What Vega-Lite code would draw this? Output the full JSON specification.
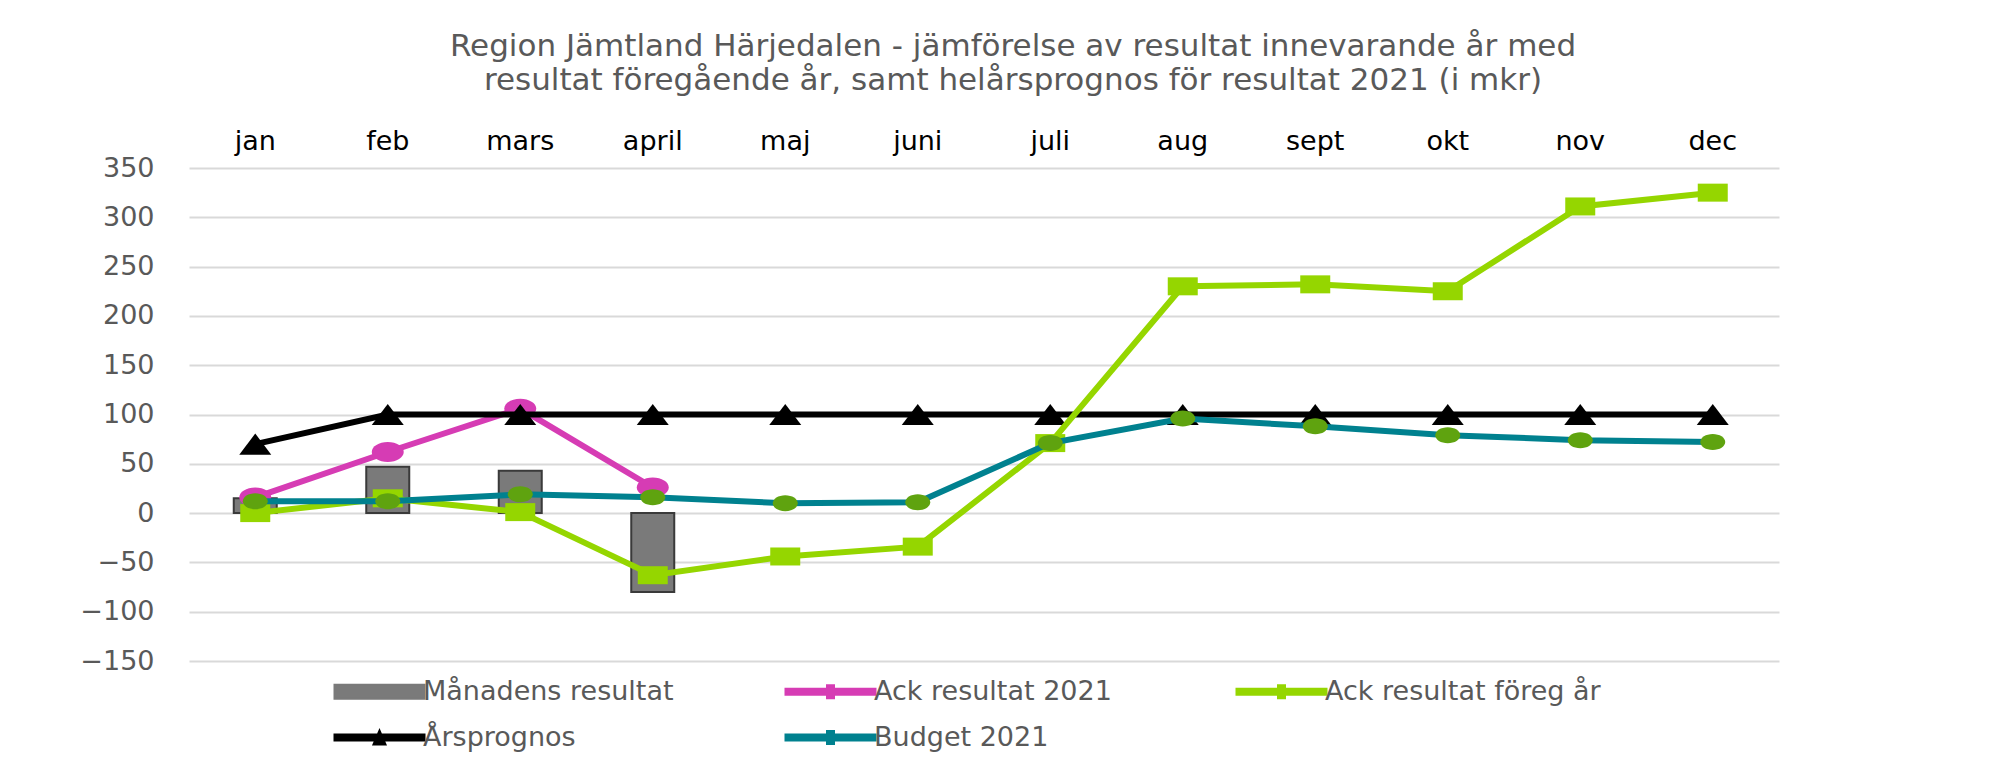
{
  "$schema": "https://vega.github.io/schema/vega-lite/v6.json",
  "width": 1590,
  "height": 493,
  "autosize": {"type": "none"},
  "padding": {"left": 189, "top": 168, "right": 234, "bottom": 111},
  "background": "white",
  "title": {
    "text": ["Region Jämtland Härjedalen - jämförelse av resultat innevarande år med", "resultat föregående år, samt helårsprognos för resultat 2021 (i mkr)"],
    "anchor": "middle",
    "frame": "group",
    "dx": 29,
    "offset": 30,
    "color": "#595959",
    "font": "DejaVu Sans",
    "fontSize": 31,
    "fontWeight": "normal",
    "lineHeight": 34
  },
  "config": {
    "view": {"stroke": null},
    "font": "DejaVu Sans"
  },
  "data": {
    "values": [
      {"month": "jan", "series": "Månadens resultat", "value": 15},
      {"month": "feb", "series": "Månadens resultat", "value": 47},
      {"month": "mars", "series": "Månadens resultat", "value": 43},
      {"month": "april", "series": "Månadens resultat", "value": -80},
      {"month": "jan", "series": "Ack resultat 2021", "value": 16},
      {"month": "feb", "series": "Ack resultat 2021", "value": 62},
      {"month": "mars", "series": "Ack resultat 2021", "value": 106},
      {"month": "april", "series": "Ack resultat 2021", "value": 26},
      {"month": "jan", "series": "Ack resultat föreg år", "value": 0},
      {"month": "feb", "series": "Ack resultat föreg år", "value": 15},
      {"month": "mars", "series": "Ack resultat föreg år", "value": 1},
      {"month": "april", "series": "Ack resultat föreg år", "value": -63},
      {"month": "maj", "series": "Ack resultat föreg år", "value": -44},
      {"month": "juni", "series": "Ack resultat föreg år", "value": -34},
      {"month": "juli", "series": "Ack resultat föreg år", "value": 71},
      {"month": "aug", "series": "Ack resultat föreg år", "value": 230},
      {"month": "sept", "series": "Ack resultat föreg år", "value": 232},
      {"month": "okt", "series": "Ack resultat föreg år", "value": 225},
      {"month": "nov", "series": "Ack resultat föreg år", "value": 311},
      {"month": "dec", "series": "Ack resultat föreg år", "value": 325},
      {"month": "jan", "series": "Årsprognos", "value": 70},
      {"month": "feb", "series": "Årsprognos", "value": 100},
      {"month": "mars", "series": "Årsprognos", "value": 100},
      {"month": "april", "series": "Årsprognos", "value": 100},
      {"month": "maj", "series": "Årsprognos", "value": 100},
      {"month": "juni", "series": "Årsprognos", "value": 100},
      {"month": "juli", "series": "Årsprognos", "value": 100},
      {"month": "aug", "series": "Årsprognos", "value": 100},
      {"month": "sept", "series": "Årsprognos", "value": 100},
      {"month": "okt", "series": "Årsprognos", "value": 100},
      {"month": "nov", "series": "Årsprognos", "value": 100},
      {"month": "dec", "series": "Årsprognos", "value": 100},
      {"month": "jan", "series": "Budget 2021", "value": 12},
      {"month": "feb", "series": "Budget 2021", "value": 12},
      {"month": "mars", "series": "Budget 2021", "value": 19},
      {"month": "april", "series": "Budget 2021", "value": 16},
      {"month": "maj", "series": "Budget 2021", "value": 10},
      {"month": "juni", "series": "Budget 2021", "value": 11},
      {"month": "juli", "series": "Budget 2021", "value": 71},
      {"month": "aug", "series": "Budget 2021", "value": 96},
      {"month": "sept", "series": "Budget 2021", "value": 88},
      {"month": "okt", "series": "Budget 2021", "value": 79},
      {"month": "nov", "series": "Budget 2021", "value": 74},
      {"month": "dec", "series": "Budget 2021", "value": 72}
    ]
  },
  "encoding": {
    "x": {
      "field": "month",
      "type": "ordinal",
      "sort": ["jan", "feb", "mars", "april", "maj", "juni", "juli", "aug", "sept", "okt", "nov", "dec"],
      "scale": {"paddingInner": 0, "paddingOuter": 0},
      "axis": {
        "orient": "top",
        "title": null,
        "labelAngle": 0,
        "ticks": false,
        "domain": false,
        "grid": false,
        "labelColor": "#000000",
        "labelFontSize": 27,
        "labelFont": "DejaVu Sans",
        "labelPadding": 13
      }
    },
    "y": {
      "field": "value",
      "type": "quantitative",
      "scale": {"domain": [-150, 350], "nice": false, "zero": false},
      "axis": {
        "title": null,
        "values": [-150, -100, -50, 0, 50, 100, 150, 200, 250, 300, 350],
        "ticks": false,
        "domain": false,
        "grid": true,
        "gridColor": "#d9d9d9",
        "gridWidth": 2,
        "labelColor": "#595959",
        "labelFontSize": 27,
        "labelFont": "DejaVu Sans",
        "labelPadding": 35
      }
    },
    "color": {
      "field": "series",
      "type": "nominal",
      "scale": {
        "domain": ["Månadens resultat", "Ack resultat 2021", "Ack resultat föreg år", "Årsprognos", "Budget 2021"],
        "range": ["#7a7a7a", "#d63cb4", "#95d600", "#000000", "#00818f"]
      },
      "legend": {
        "title": null,
        "orient": "none",
        "legendX": 142,
        "legendY": 510,
        "padding": 0,
        "direction": "horizontal",
        "columns": 3,
        "gridAlign": "all",
        "columnPadding": 82,
        "rowPadding": 18,
        "symbolSize": 400,
        "symbolOffset": 35,
        "labelFontSize": 27,
        "labelFont": "DejaVu Sans",
        "labelColor": "#595959",
        "labelOffset": 30,
        "labelLimit": 0,
        "encode": {
          "symbols": {
            "update": {
              "shape": {"signal": "datum.value === 'Månadens resultat' ? 'M-4.5,-0.7H4.5V0.7H-4.5Z' : (datum.value === 'Årsprognos' ? 'M-4.5,-0.3H4.5V0.3H-4.5ZM-0.6,0.7L0,-0.7L0.6,0.7Z' : 'M-4.5,-0.3H4.5V0.3H-4.5ZM-0.35,-0.65H0.35V0.65H-0.35Z')"},
              "fill": {"signal": "datum.value === 'Månadens resultat' ? '#7a7a7a' : scale('color', datum.value)"},
              "stroke": {"signal": "datum.value === 'Månadens resultat' ? '#000000' : 'transparent'"},
              "strokeWidth": {"value": 2},
              "opacity": {"value": 1},
              "fillOpacity": {"value": 1}
            }
          }
        }
      }
    }
  },
  "layer": [
    {
      "transform": [{"filter": "datum.series === 'Månadens resultat'"}],
      "mark": {"type": "bar", "size": 43, "fill": "#7a7a7a", "stroke": "#3a3a3a", "strokeWidth": 2}
    },
    {
      "transform": [{"filter": "datum.series === 'Ack resultat 2021'"}],
      "mark": {"type": "line", "strokeWidth": 6}
    },
    {
      "transform": [{"filter": "datum.series === 'Ack resultat 2021'"}],
      "mark": {"type": "point", "filled": true, "opacity": 1, "fill": "#d63cb4", "strokeWidth": 0, "size": 1024, "shape": "M-1,0A1,0.62,0,1,0,1,0A1,0.62,0,1,0,-1,0Z"}
    },
    {
      "transform": [{"filter": "datum.series === 'Årsprognos'"}],
      "mark": {"type": "line", "strokeWidth": 6}
    },
    {
      "transform": [{"filter": "datum.series === 'Årsprognos'"}],
      "mark": {"type": "point", "filled": true, "opacity": 1, "fill": "#000000", "strokeWidth": 0, "size": 1024, "shape": "M0,-0.66L1,0.66L-1,0.66Z"}
    },
    {
      "transform": [{"filter": "datum.series === 'Ack resultat föreg år'"}],
      "mark": {"type": "line", "strokeWidth": 6}
    },
    {
      "transform": [{"filter": "datum.series === 'Ack resultat föreg år'"}],
      "mark": {"type": "point", "filled": true, "opacity": 1, "fill": "#95d600", "strokeWidth": 0, "size": 900, "shape": "M-1,-0.6H1V0.6H-1Z"}
    },
    {
      "transform": [{"filter": "datum.series === 'Budget 2021'"}],
      "mark": {"type": "line", "strokeWidth": 6}
    },
    {
      "transform": [{"filter": "datum.series === 'Budget 2021'"}],
      "mark": {"type": "point", "filled": true, "opacity": 1, "fill": "#5fa30f", "strokeWidth": 0, "size": 625, "shape": "M-1,0A1,0.64,0,1,0,1,0A1,0.64,0,1,0,-1,0Z"}
    }
  ]
}
